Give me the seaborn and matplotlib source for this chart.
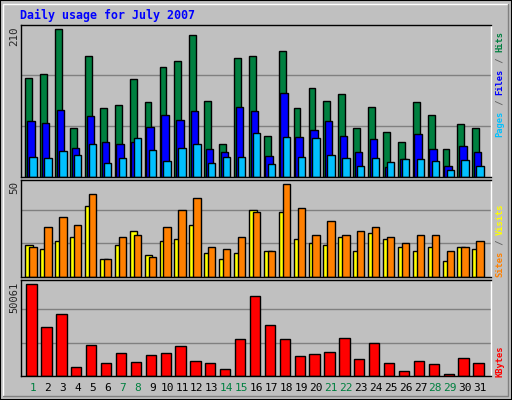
import numpy as np
import pandas as pd
import matplotlib
matplotlib.use("Agg")
import matplotlib.pyplot as plt
import seaborn as sns
from matplotlib.patches import Rectangle
from matplotlib.lines import Line2D

days = list(range(1, 32))
hits = [136,141,202,67,166,95,99,134,103,151,159,195,104,45,163,166,56,173,95,122,104,113,67,96,62,48,103,85,38,73,67]
files = [77,74,92,40,84,48,45,48,69,85,78,91,38,34,96,91,29,115,55,65,77,56,34,52,14,25,59,38,15,43,34]
pages = [27,26,36,30,45,19,26,54,37,22,40,45,19,27,27,60,18,55,27,54,30,26,15,26,21,25,25,22,10,23,15]
visits = [16,14,18,20,35,9,16,23,11,18,19,26,12,9,12,33,13,32,19,17,16,20,13,22,19,15,13,15,8,15,14]
sites = [15,25,30,26,41,9,20,21,10,25,33,39,15,14,20,32,13,46,34,21,28,21,23,25,20,17,21,21,13,15,18]
kbytes = [46185,24441,31015,4720,15339,6742,11294,7248,10282,11294,14833,7754,6742,3708,18373,
          40117,25453,18373,9776,10788,11799,18879,8259,16350,6742,2697,7754,6237,1180,8765,6742]
weekend = [1,7,8,14,15,21,22,28,29]
title = "Daily usage for July 2007"

sns.set_theme(style="white")
plt.rcParams['font.family'] = ['DejaVu Sans Mono']
BG = "#C0C0C0"
fig = plt.figure(figsize=(5.12, 4.0), dpi=100, facecolor=BG)

fig.patches.append(Rectangle((0, 0), 1, 1, transform=fig.transFigure, fill=False, ec="black", lw=1.5))
fig.lines.append(Line2D([3/512, 3/512, 508/512], [4/400, 396/400, 396/400], transform=fig.transFigure, color="white", lw=1))
fig.lines.append(Line2D([3/512, 508/512, 508/512], [4/400, 4/400, 396/400], transform=fig.transFigure, color="#808080", lw=1))

L, W = 20.7/512, 470/512
def mkax(top, bot):
    ax = fig.add_axes([L, 1 - bot/400, W, (bot - top)/400])
    ax.set_facecolor(BG)
    for s in ax.spines.values():
        s.set_color("black"); s.set_linewidth(1)
    ax.spines["right"].set_color("white")
    ax.set_axisbelow(True)
    return ax

def bars(ax, vals, off, width, color):
    df = pd.DataFrame({"pos": np.array(days) + off, "val": vals})
    sns.barplot(data=df, x="pos", y="val", native_scale=True, width=width, color=color,
                edgecolor="black", linewidth=1, saturation=1, ax=ax)

def finish(ax, ymax, ytop):
    ax.set_xlim(0.17, 31.72)
    ax.set_ylim(0, ytop)
    for g in (ymax/3, 2*ymax/3):
        ax.axhline(g, color="#808080", lw=1, zorder=0)
    ax.set_xticks([]); ax.set_yticks([])
    ax.set_xlabel(""); ax.set_ylabel("")

ax1 = mkax(25, 177)
bars(ax1, hits, -0.28, 0.46, "#008040")
bars(ax1, files, -0.15, 0.5, "#0000FF")
bars(ax1, pages, 0.0, 0.49, "#00C0FF")
finish(ax1, 210, 208)

ax2 = mkax(180, 277)
bars(ax2, visits, -0.25, 0.52, "#FFFF00")
bars(ax2, sites, 0.0, 0.49, "#FF8000")
finish(ax2, 50, 48.1)

ax3 = mkax(280, 376)
bars(ax3, kbytes, -0.1, 0.69, "#FF0000")
finish(ax3, 50061, 48040)

fig.text(20/512, 1 - 15/400, title, color="#0000FF", fontsize=8.4, fontweight="bold", va="center", ha="left")

fig.text(14/512, 1 - 27/400, "210", rotation=90, fontsize=7.8, va="top", ha="center")
fig.text(14/512, 1 - 181/400, "50", rotation=90, fontsize=7.8, va="top", ha="center")
fig.text(14/512, 1 - 282/400, "50061", rotation=90, fontsize=7.5, va="top", ha="center")

for d in days:
    ax3.text(d, -0.07, str(d), transform=ax3.get_xaxis_transform(), ha="center", va="top",
             fontsize=8, color="#008040" if d in weekend else "black")

cw = 5.3
def rlabel(parts, ybottom):
    pos = 0
    for txt, col in parts:
        fig.text(500/512, 1 - (ybottom - pos*cw)/400, txt, rotation=90, fontsize=6.3,
                 color=col, va="bottom", ha="center", fontweight="bold")
        pos += len(txt)

rlabel([("Pages", "#00C0FF"), (" / ", "#606060"), ("Files", "#0000FF"), (" / ", "#606060"), ("Hits", "#008040")], 137)
rlabel([("Sites", "#FF8000"), (" / ", "#606060"), ("Visits", "#FFFF00")], 277)
rlabel([("KBytes", "#FF0000")], 377)

fig.savefig("out.png", dpi=100, facecolor=BG)
